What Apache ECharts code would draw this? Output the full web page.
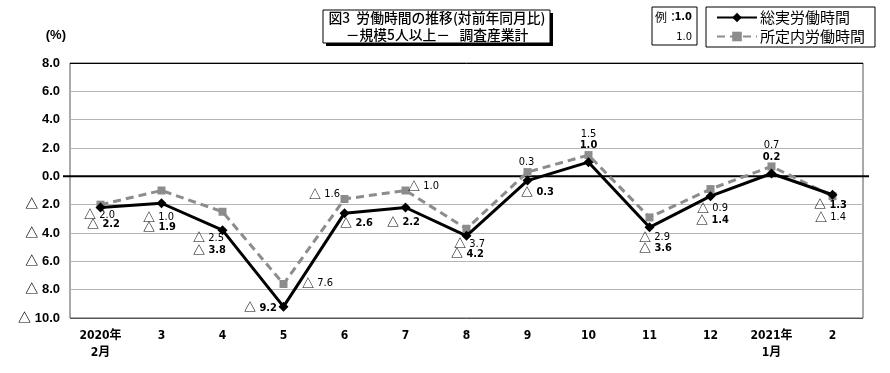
<!DOCTYPE html>
<html><head><meta charset="utf-8">
<script src="https://cdn.jsdelivr.net/npm/echarts@6/dist/echarts.min.js"></script>
<style>html,body{margin:0;padding:0;background:#fff}#c{width:890px;height:373px}</style>
</head><body><div id="c"></div>
<script>
const categories = ['2020年\n2月','3','4','5','6','7','8','9','10','11','12','2021年\n1月','2'];
const totalHours = [-2.2,-1.9,-3.8,-9.2,-2.6,-2.2,-4.2,-0.3,1.0,-3.6,-1.4,0.2,-1.3];
const scheduledHours = [-2.0,-1.0,-2.5,-7.6,-1.6,-1.0,-3.7,0.3,1.5,-2.9,-0.9,0.7,-1.4];
const seriesNames = ['総実労働時間','所定内労働時間'];
const yTicks = {min:-10, max:8, interval:2};

// label offsets (text centre relative to point)
const totalLabelOffset = [[3,17],[-2,24],[-13,20],[-23,1],[12,10],[-2,15],[1,18],[10,12],[0,-17],[6,21],[2,24],[0,-16],[-2,10]];
const schedLabelOffset = [[-1,10],[-3,27],[-14,26],[34,-1],[-20,-5],[18,-4],[3,15],[-1,-10],[0,-21],[5,20],[2,19],[0,-21],[-2,21]];

const FONT = '"Liberation Sans Narrow","DejaVu Sans Condensed","Noto Sans CJK JP",sans-serif';
const JFONT = '"Noto Sans CJK JP",sans-serif';
function fmt(v){ return v < 0 ? '△ ' + Math.abs(v).toFixed(1) : v.toFixed(1); }
function fmtRich(v){ return v < 0 ? '{t|△} ' + Math.abs(v).toFixed(1) : v.toFixed(1); }

const chart = echarts.init(document.getElementById('c'), null, {renderer:'canvas'});

function mkData(vals, offs){
  return vals.map((v,i)=>({value:v, label:{offset:offs[i]}}));
}

const option = {
  animation:false,
  backgroundColor:'#fff',
  grid:{left:70, right:27, top:63, bottom:55, show:true, borderColor:'#555', borderWidth:1},
  xAxis:{type:'category', data:categories, boundaryGap:true,
    axisTick:{show:false},
    axisLine:{show:false},
    axisLabel:{margin:9, color:'#000', fontSize:12, fontWeight:'bold', fontFamily:FONT, lineHeight:17, interval:0}},
  yAxis:{type:'value', min:yTicks.min, max:yTicks.max, interval:yTicks.interval,
    name:'(%)', nameLocation:'end', nameGap:21,
    nameTextStyle:{color:'#000', fontSize:13, fontWeight:'bold', fontFamily:'"Liberation Sans",sans-serif', align:'right', padding:[0,4,0,0]},
    axisLine:{show:false}, axisTick:{show:false},
    axisLabel:{margin:10, color:'#000', fontSize:13, fontWeight:'bold', fontFamily:'"Liberation Sans","Noto Sans CJK JP",sans-serif', formatter:fmt},
    splitLine:{show:true, lineStyle:{color:['#555','#b4b4b4','#b4b4b4','#b4b4b4','#b4b4b4','#b4b4b4','#b4b4b4','#b4b4b4','#b4b4b4','#000'], width:1}}},
  legend:{orient:'vertical', left:706, top:7, padding:[3,10,3,10], itemGap:4,
    itemWidth:40, itemHeight:12,
    borderColor:'#000', borderWidth:1,
    textStyle:{color:'#000', fontSize:15, fontFamily:JFONT, padding:[0,0,0,-2]},
    data:seriesNames},
  series:[
    {name:seriesNames[1], type:'line', data:mkData(scheduledHours, schedLabelOffset), z:3,
      symbol:'rect', symbolSize:8, color:'#8c8c8c',
      itemStyle:{color:'#8c8c8c'},
      lineStyle:{color:'#8c8c8c', width:3, type:[8,5]},
      label:{show:true, position:'inside', formatter:p=>fmtRich(p.value), color:'#000', fontSize:11, fontFamily:FONT,
        rich:{t:{fontFamily:JFONT, fontSize:12, color:'#000'}}}},
    {name:seriesNames[0], type:'line', data:mkData(totalHours, totalLabelOffset), z:4,
      symbol:'diamond', symbolSize:10, color:'#000',
      itemStyle:{color:'#000'},
      lineStyle:{color:'#000', width:3},
      label:{show:true, position:'inside', formatter:p=>fmtRich(p.value), color:'#000', fontSize:11, fontWeight:'bold', fontFamily:FONT,
        rich:{t:{fontFamily:JFONT, fontSize:12, fontWeight:'bold', color:'#000'}}}}
  ],
  graphic:[
    {type:'rect', id:'tshadow', shape:{x:326, y:13, width:227, height:33}, style:{fill:'#000'}, z:10},
    {type:'rect', id:'tbox', shape:{x:323, y:10, width:227, height:33}, style:{fill:'#fff', stroke:'#000', lineWidth:1}, z:11},
    {type:'rect', id:'exbox', shape:{x:652, y:7, width:45, height:38}, style:{fill:'#fff', stroke:'#000', lineWidth:1}, z:10},
    {type:'text', id:'ex1', style:{text:'例：', x:655, y:17, verticalAlign:'middle', font:'12px '+JFONT, fill:'#000'}, z:12},
    {type:'text', id:'ex2', style:{text:'1.0', x:692, y:17, align:'right', verticalAlign:'middle', font:'bold 11px '+FONT, fill:'#000'}, z:12},
    {type:'text', id:'ex3', style:{text:'1.0', x:692, y:37, align:'right', verticalAlign:'middle', font:'11px '+FONT, fill:'#000'}, z:12}
  ]
};
chart.setOption(option);
// title lines and zero line (zero line derived from the y scale)
const y0 = chart.convertToPixel({yAxisIndex:0}, 0);
chart.setOption({graphic:[
  {type:'text', id:'t1', style:{text:'図3  労働時間の推移(対前年同月比)', x:437, y:18, align:'center', verticalAlign:'middle', font:'500 13.8px '+JFONT, fill:'#000'}, z:12},
  {type:'text', id:'t2', style:{text:'－規模5人以上－   調査産業計', x:437, y:35, align:'center', verticalAlign:'middle', font:'500 13.8px '+JFONT, fill:'#000'}, z:12},
  {type:'line', id:'zero', shape:{x1:63, y1:y0, x2:869, y2:y0}, style:{stroke:'#000', lineWidth:2}, z:2}
]});
</script></body></html>
